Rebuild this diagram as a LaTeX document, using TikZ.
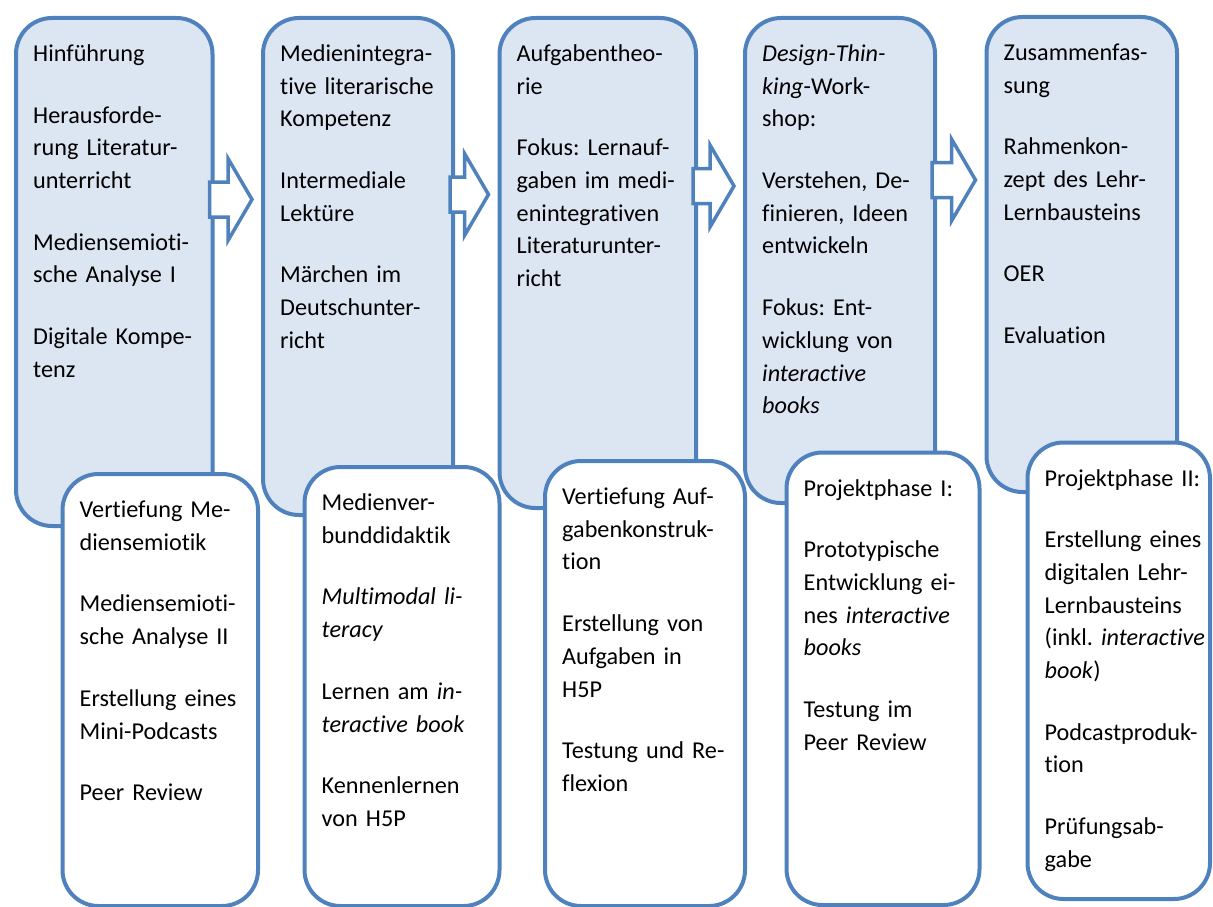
\documentclass[tikz,border=0pt]{standalone}
\usepackage{fontspec}
\setmainfont{Carlito}[Ligatures=NoCommon]
\usetikzlibrary{calc}
\definecolor{PhaseLine}{HTML}{4F81BD}
\definecolor{PhaseFill}{HTML}{DCE6F2}
\tikzset{
  topbox/.style={draw=PhaseLine,fill=PhaseFill,line width=4pt,rounded corners=36pt,inner sep=0pt,anchor=north west},
  lowbox/.style={draw=PhaseLine,fill=white,line width=4pt,rounded corners=36pt,inner sep=0pt,anchor=north west},
  boxtext/.style={anchor=base west,inner sep=0pt,text width=230pt,align=left,font=\fontsize{24.2}{32.7}\selectfont\frenchspacing},
  flowarrow/.style={draw=PhaseLine,fill=white,line width=3.5pt,line join=miter}
}
\newcommand{\phasebox}[7]{%
  \node[#2,minimum width={#5-#3},minimum height={#6-#4}] (#1) at (#3,#4) {};
  \node[boxtext] (#1text) at ([xshift=19pt,yshift=-45.5pt]#1.north west) {#7};
}
\newcommand{\phasearrow}[3]{%
  \coordinate (#1out) at ($(#1.east |- 0,#3)+(-5,0)$);
  \coordinate (#2in) at ($(#2.west |- 0,#3)+(-9,0)$);
  \draw[flowarrow] ($(#1out)+(0,-17.5)$) -- ($(#2in)+(-24,-17.5)$) -- ($(#2in)+(-24,-41)$)
    -- (#2in) -- ($(#2in)+(-24,41)$) -- ($(#2in)+(-24,17.5)$) -- ($(#1out)+(0,17.5)$) -- cycle;
}
\begin{document}
\begin{tikzpicture}[x=1pt,y=-1pt]
\path[use as bounding box] (0,0) rectangle (1213,907);
% upper row
\phasebox{t1}{topbox}{14}{16}{210.5}{524}{Hinführung\\[29pt]
  Herausforde-\\rung Literatur-\\unterricht\\[29pt]
  Mediensemioti-\\sche Analyse I\\[29pt]
  Digitale Kompe-\\tenz}
\phasebox{t2}{topbox}{261}{16}{451}{513}{Medienintegra-\\tive literarische\\Kompetenz\\[29pt]
  Intermediale\\Lektüre\\[29pt]
  Märchen im\\Deutschunter-\\richt}
\phasebox{t3}{topbox}{497.5}{16}{694}{506}{Aufgabentheo-\\rie\\[29pt]
  Fokus: Lernauf-\\gaben im medi-\\enintegrativen\\Literaturunter-\\richt}
\phasebox{t4}{topbox}{743}{16}{933}{501}{\textit{Design-Thin-}\\\textit{king}-Work-\\shop:\\[29pt]
  Verstehen, De-\\finieren, Ideen\\entwickeln\\[29pt]
  Fokus: Ent-\\wicklung von\\\textit{interactive}\\\textit{books}}
\phasebox{t5}{topbox}{984.5}{15}{1175}{490}{Zusammenfas-\\sung\\[29pt]
  Rahmenkon-\\zept des Lehr-\\Lernbausteins\\[29pt]
  OER\\[29pt]
  Evaluation}

\phasearrow{t1}{t2}{199.5}
\phasearrow{t2}{t3}{194.5}
\phasearrow{t3}{t4}{186}
\phasearrow{t4}{t5}{180}

% lower row
\phasebox{b1}{lowbox}{60.5}{472}{256}{904}{Vertiefung Me-\\diensemiotik\\[29pt]
  Mediensemioti-\\sche Analyse II\\[29pt]
  Erstellung eines\\Mini-Podcasts\\[29pt]
  Peer Review}
\phasebox{b2}{lowbox}{302.5}{465}{497.5}{904}{Medienver-\\bunddidaktik\\[29pt]
  \textit{Multimodal li-}\\\textit{teracy}\\[29pt]
  Lernen am \textit{in-}\\\textit{teractive book}\\[29pt]
  Kennenlernen\\von H5P}
\phasebox{b3}{lowbox}{543}{459}{743}{904}{Vertiefung Auf-\\gabenkonstruk-\\tion\\[29pt]
  Erstellung von\\Aufgaben in\\H5P\\[29pt]
  Testung und Re-\\flexion}
\phasebox{b4}{lowbox}{784.5}{450.5}{977.5}{903}{Projektphase I:\\[29pt]
  Prototypische\\Entwicklung ei-\\nes \textit{interactive}\\\textit{books}\\[29pt]
  Testung im\\Peer Review}
\phasebox{b5}{lowbox}{1025.5}{440.5}{1208}{897}{Projektphase II:\\[29pt]
  Erstellung eines\\digitalen Lehr-\\Lernbausteins\\(inkl. \textit{interactive}\\\textit{book})\\[29pt]
  Podcastproduk-\\tion\\[29pt]
  Prüfungsab-\\gabe}
\end{tikzpicture}
\end{document}
